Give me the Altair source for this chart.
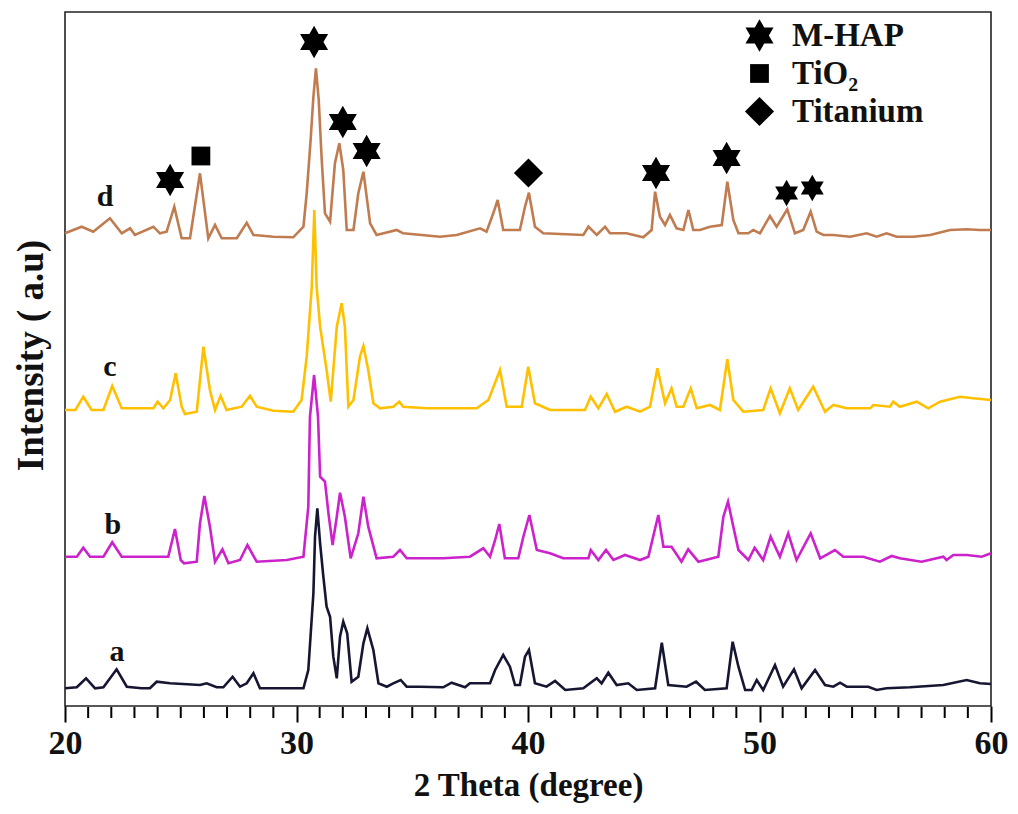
import altair as alt
import pandas as pd

FONT = "Liberation Serif"

# ---- XRD patterns (2 theta in degrees, intensity in arbitrary units, stacked) ----
a_2theta = [20.0, 20.51, 20.91, 21.30, 21.66, 22.23, 22.67, 23.31, 23.67, 23.96, 24.54, 25.83, 26.12, 26.55,
            26.84, 27.24, 27.56, 27.85, 28.14, 28.42, 30.30, 30.51, 30.73, 30.80, 30.90, 31.02, 31.16, 31.30,
            31.45, 31.59, 31.74, 31.88, 32.02, 32.19, 32.38, 32.67, 32.89, 33.06, 33.32, 33.54, 33.90, 34.18,
            34.50, 34.76, 35.33, 36.34, 36.70, 37.28, 37.49, 38.36, 38.58, 38.93, 39.22, 39.44, 39.65, 39.87,
            40.04, 40.30, 40.80, 41.17, 41.61, 42.39, 42.97, 43.18, 43.47, 43.83, 44.33, 44.70, 45.49, 45.78,
            46.06, 46.85, 47.26, 47.64, 48.58, 48.84, 49.09, 49.38, 49.66, 49.88, 50.16, 50.67, 51.02, 51.49,
            51.82, 52.40, 52.83, 53.19, 53.48, 53.77, 54.70, 55.06, 55.49, 56.50, 57.94, 58.95, 59.52, 60.0]
a_intensity = [17.7, 18.7, 27.7, 17.7, 18.7, 36.7, 19.3, 17.7, 17.7, 24.3, 22.7, 21, 22.7, 18.7,
               18.7, 29.3, 19.3, 22.7, 32.7, 17.7, 17.7, 36, 112.7, 169.3, 197.7, 162.7, 129.3, 99.3,
               89.3, 49.3, 27.7, 69.3, 84.3, 72.7, 24.3, 29.3, 62.7, 77.7, 56, 22.7, 19.3, 22.7,
               26, 19.3, 19.3, 18.7, 23.3, 18.7, 22.7, 22.7, 36, 51, 39.3, 21, 21, 49.3,
               56, 22.7, 19.3, 25, 16, 17.7, 27.7, 22.7, 33.3, 21, 22.7, 16, 17.7, 63.3,
               21, 19.3, 24.3, 16, 17.7, 64.3, 39.3, 16, 16, 26, 16, 41, 19.3, 36.7,
               17.7, 36, 21, 19.3, 23.3, 19.3, 19.3, 16, 17.7, 18.7, 21, 26, 22.7, 22]

b_2theta = [20.0, 20.51, 20.79, 21.08, 21.66, 22.04, 22.45, 24.46, 24.75, 25.0, 25.14, 25.69, 25.83, 26.02,
            26.26, 26.48, 26.80, 27.06, 27.56, 27.88, 28.28, 29.58, 30.30, 30.51, 30.58, 30.76, 30.93, 31.02,
            31.23, 31.38, 31.56, 31.74, 31.88, 32.09, 32.34, 32.67, 32.89, 33.10, 33.46, 34.18, 34.47, 34.76,
            36.34, 37.49, 38.07, 38.36, 38.58, 38.76, 39.0, 39.58, 39.80, 40.06, 40.38, 40.95, 41.52, 42.61,
            42.71, 43.04, 43.37, 43.69, 44.19, 44.84, 45.20, 45.63, 45.85, 46.2, 46.63, 46.92, 47.36, 48.22,
            48.44, 48.64, 48.87, 49.09, 49.52, 49.79, 50.16, 50.48, 50.88, 51.24, 51.60, 52.21, 52.62, 53.26,
            53.62, 54.48, 55.2, 55.71, 56.06, 57.0, 57.94, 58.08, 58.37, 58.95, 59.60, 60.0]
b_intensity = [149.3, 149.3, 158.3, 149.3, 149.3, 163.7, 149.3, 149.3, 177, 146, 142.7, 144.3, 182.7, 210,
               179.3, 144.3, 156.7, 142.7, 146, 161, 144.3, 146, 149.3, 199.3, 289, 331, 289, 229.3,
               224.3, 192.7, 161, 189.3, 213.3, 189.3, 147.7, 172.7, 209.3, 179.3, 147.7, 149.3, 156, 147.7,
               147.7, 149.3, 157.7, 149.3, 166, 182, 147.7, 147.7, 169.3, 191, 156, 152.7, 147.7, 147.7,
               156, 146, 156, 146, 151, 146, 149.3, 191, 159.3, 159.3, 144.3, 156.7, 144.3, 149.3,
               189.3, 204.3, 179.3, 156, 146, 158.3, 146, 169.3, 149.3, 172.7, 146, 172.7, 147.7, 156,
               149.3, 149.3, 144.3, 150, 147.7, 144.3, 149.3, 146, 151, 151, 149.3, 152.7]

c_2theta = [20.0, 20.45, 20.79, 21.15, 21.66, 22.04, 22.45, 23.82, 24.0, 24.25, 24.54, 24.78, 25.04, 25.18,
            25.69, 25.98, 26.26, 26.48, 26.72, 26.98, 27.63, 27.99, 28.28, 29.0, 29.86, 30.22, 30.44, 30.66,
            30.77, 30.87, 31.02, 31.30, 31.48, 31.74, 31.95, 32.09, 32.24, 32.46, 32.74, 32.89, 33.10, 33.32,
            33.61, 34.18, 34.44, 34.61, 35.62, 37.78, 38.29, 38.79, 39.08, 39.73, 40.01, 40.30, 40.95, 42.46,
            42.71, 43.04, 43.40, 43.76, 44.26, 44.84, 45.27, 45.59, 45.92, 46.2, 46.42, 46.71, 47.03, 47.29,
            47.86, 48.29, 48.61, 48.87, 49.30, 50.16, 50.48, 50.88, 51.31, 51.67, 52.32, 52.83, 53.19, 53.77,
            54.78, 54.92, 55.63, 55.78, 56.06, 56.79, 57.29, 57.80, 58.66, 59.23, 60.0]
c_intensity = [296, 296, 309.3, 296, 296, 320, 297.7, 297.7, 304.3, 297.7, 306, 332.7, 299.3, 292,
               294.3, 359.3, 316, 296, 310, 296, 299.3, 310.3, 299.3, 295.3, 294.3, 306, 349.3, 419.3,
               496, 419.3, 379.3, 336, 304.3, 379.3, 402.7, 379.3, 299.3, 306, 349.3, 360, 336, 302.7,
               297.7, 299.3, 304.3, 299.3, 297.7, 297.7, 306, 336, 299.3, 299.3, 339.3, 302.7, 296, 296,
               309.3, 297.7, 312, 294.3, 299.3, 294.3, 299.3, 337.7, 302.7, 317.7, 299.3, 299.3, 317.7, 297.7,
               301, 296, 346.7, 306, 294.3, 296, 317.7, 292.7, 317.7, 296, 319.3, 294.3, 301, 297.7,
               297.7, 301, 299.3, 304.3, 299.3, 304.3, 297.7, 304.3, 309.3, 307.7, 306]

d_2theta = [20.0, 20.72, 21.22, 21.94, 22.45, 22.81, 23.02, 23.82, 24.10, 24.39, 24.72, 25.04, 25.40, 25.83,
            26.19, 26.48, 26.77, 27.42, 27.85, 28.14, 29.0, 29.86, 30.30, 30.44, 30.61, 30.73, 30.84, 30.96,
            31.09, 31.23, 31.45, 31.66, 31.85, 32.02, 32.17, 32.46, 32.67, 32.89, 33.18, 33.46, 34.33, 34.61,
            36.2, 36.92, 37.93, 38.21, 38.5, 38.69, 38.93, 39.65, 39.87, 40.04, 40.30, 40.66, 42.39, 42.61,
            42.97, 43.33, 43.54, 44.26, 44.98, 45.34, 45.49, 45.70, 45.92, 46.13, 46.42, 46.71, 46.93, 47.14,
            47.43, 47.86, 48.37, 48.61, 48.87, 49.09, 49.52, 49.73, 50.02, 50.45, 50.74, 51.20, 51.53, 51.89,
            52.21, 52.47, 52.76, 53.19, 53.91, 54.63, 55.06, 55.49, 55.93, 56.65, 57.37, 58.23, 58.95, 59.52, 60.0]
d_intensity = [472.7, 479.3, 474.3, 487.7, 472.7, 477.7, 471, 479.3, 472.7, 474.3, 499.3, 467.7, 467.7, 532.7,
               467.7, 481, 467.7, 467.7, 483.3, 471, 469.3, 468.7, 479.3, 512.7, 566, 609.3, 637.7, 606,
               546, 492.7, 484.3, 542.7, 562.7, 536, 476, 476, 512.7, 534.3, 482.7, 471, 476, 472.7,
               469.3, 471, 477.7, 474.3, 492.7, 506, 476, 476, 499.3, 513.3, 479.3, 472.7, 471, 479.3,
               471, 479.3, 472.7, 472.7, 468.7, 476, 514.3, 489.3, 481, 491, 477.7, 476, 496, 476,
               476, 479.3, 481, 524.3, 486, 472.7, 472.7, 476, 472.7, 490, 479.3, 496.7, 472.7, 476,
               494.3, 474.3, 471, 471, 469.3, 472.7, 469.3, 472.7, 469.3, 469.3, 471, 476, 476.7, 476, 476]

samples = ["a", "b", "c", "d"]
sample_colors = ["#161633", "#CC22CC", "#FFC000", "#C07C50"]

# tick positions
major_ticks = [20, 30, 40, 50, 60]
minor_ticks = [v for v in range(21, 60) if v % 10 != 0]

# curve labels
label_text = ["a", "b", "c", "d"]
label_2theta = [22.25, 22.07, 21.94, 21.73]
label_intensity = [54, 181, 339, 509]

# phase markers on curve d
phases = ["M-HAP", "TiO\u2082", "Titanium"]
marker_phase = ["M-HAP", "TiO\u2082", "M-HAP", "M-HAP", "M-HAP", "Titanium", "M-HAP", "M-HAP"]
marker_2theta = [24.54, 25.87, 30.76, 32.0, 33.03, 40.02, 45.53, 48.58]
marker_intensity = [526, 550, 664, 584, 555, 533, 533, 548]
minor_phase = ["M-HAP", "M-HAP"]
minor_2theta = [51.17, 52.28]
minor_intensity = [513, 518]

STAR = ("M0,-1L0.289,-0.5L0.866,-0.5L0.577,0L0.866,0.5L0.289,0.5L0,1L-0.289,0.5"
        "L-0.866,0.5L-0.577,0L-0.866,-0.5L-0.289,-0.5Z")
SQUARE = "M-0.58,-0.58L0.58,-0.58L0.58,0.58L-0.58,0.58Z"
DIAMOND = "M0,-0.9L0.9,0L0,0.9L-0.9,0Z"

rows = []
for name, xs, ys in [("a", a_2theta, a_intensity), ("b", b_2theta, b_intensity),
                     ("c", c_2theta, c_intensity), ("d", d_2theta, d_intensity)]:
    for i, (x, y) in enumerate(zip(xs, ys)):
        rows.append({"sample": name, "two_theta": x, "intensity": y, "idx": i})
curves = pd.DataFrame(rows)
labels = pd.DataFrame({"text": label_text, "two_theta": label_2theta, "intensity": label_intensity})
markers = pd.DataFrame({"phase": marker_phase, "two_theta": marker_2theta, "intensity": marker_intensity})
minors = pd.DataFrame({"phase": minor_phase, "two_theta": minor_2theta, "intensity": minor_intensity})
minor_tick_df = pd.DataFrame({"two_theta": minor_ticks})

xscale = alt.Scale(domain=[20, 60], nice=False, zero=False)
yscale = alt.Scale(domain=[0, 694], nice=False, zero=False)

x_axis = alt.Axis(
    orient="bottom", values=major_ticks, tickSize=16, ticks=True,
    tickColor="#000000", tickWidth=2, tickOpacity=1, domain=False, grid=False,
    labelFont=FONT, labelFontSize=34, labelFontWeight="bold", labelColor="#111",
    labelPadding=4, labelOverlap=False, labelFlush=False,
    title="2 Theta (degree)", titleFont=FONT, titleFontSize=33, titleFontWeight="bold",
    titleColor="#111", titleBaseline="alphabetic", titleY=89,
)
y_axis = alt.Axis(
    labels=False, ticks=False, domain=False, grid=False,
    title="Intensity ( a.u)", titleFont=FONT, titleFontSize=37, titleFontWeight="bold",
    titleColor="#111", titleAngle=270, titleAlign="center", titleBaseline="middle",
    titleX=-34, titleY=343,
)

lines = alt.Chart(curves).mark_line(strokeWidth=2.6).encode(
    x=alt.X("two_theta:Q", scale=xscale, axis=x_axis),
    y=alt.Y("intensity:Q", scale=yscale, axis=y_axis),
    color=alt.Color("sample:N", scale=alt.Scale(domain=samples, range=sample_colors), legend=None),
    order=alt.Order("idx:Q"),
)

# minor x ticks below the frame
minor_rules = alt.Chart(minor_tick_df).mark_rule(color="#000000", strokeWidth=2, opacity=1, clip=False).encode(
    x=alt.X("two_theta:Q", scale=xscale),
    y=alt.value(695),
    y2=alt.value(706),
)

text = alt.Chart(labels).mark_text(font=FONT, fontSize=30, fontWeight="bold", color="#111",
                                   baseline="middle", align="center").encode(
    x=alt.X("two_theta:Q", scale=xscale),
    y=alt.Y("intensity:Q", scale=yscale),
    text="text:N",
)

shape_scale = alt.Scale(domain=phases, range=[STAR, SQUARE, DIAMOND])
pts = alt.Chart(markers).mark_point(filled=True, color="black", opacity=1, size=1050).encode(
    x=alt.X("two_theta:Q", scale=xscale),
    y=alt.Y("intensity:Q", scale=yscale),
    shape=alt.Shape("phase:N", scale=shape_scale, legend=alt.Legend(
        title=None, orient="none", legendX=678, legendY=7, padding=0,
        symbolSize=1050, symbolFillColor="black", symbolStrokeColor="black", symbolStrokeWidth=0,
        symbolOpacity=1, labelFont=FONT, labelFontSize=33, labelFontWeight="bold",
        labelColor="#111", labelOffset=16, rowPadding=4, labelLimit=400)),
)
pts_small = alt.Chart(minors).mark_point(filled=True, color="black", opacity=1, size=700).encode(
    x=alt.X("two_theta:Q", scale=xscale),
    y=alt.Y("intensity:Q", scale=yscale),
    shape=alt.Shape("phase:N", scale=shape_scale),
)

chart = alt.layer(lines, minor_rules, text, pts, pts_small).properties(
    width=926, height=694,
    autosize=alt.AutoSizeParams(type="none"),
    padding={"left": 57, "top": 4, "right": 18, "bottom": 98},
).configure_view(stroke="#222", strokeWidth=1.6)

chart.save("out.html", embed_options={"renderer": "svg", "actions": False})
